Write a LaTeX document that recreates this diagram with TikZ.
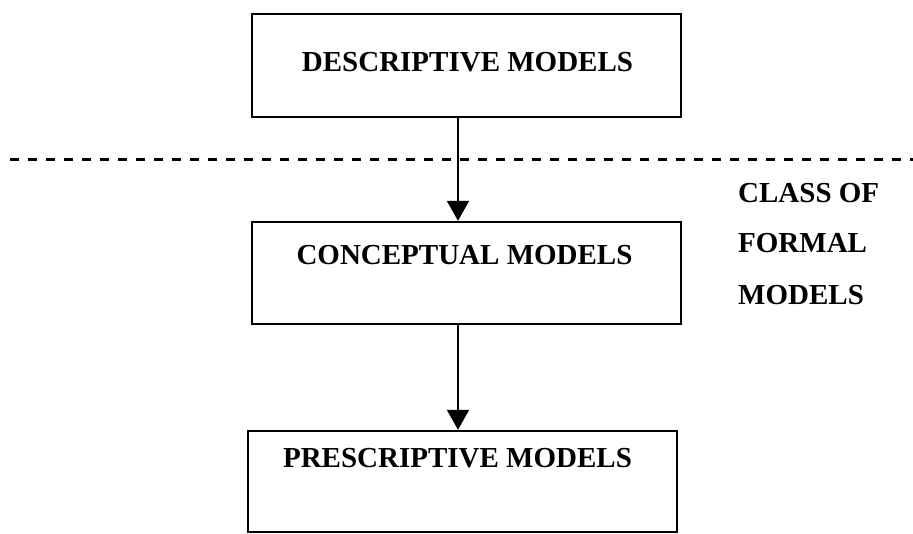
\documentclass[tikz,border=0pt]{standalone}
\usepackage{fontspec}
\setmainfont{Liberation Serif}
\usetikzlibrary{arrows.meta}
\begin{document}
\begin{tikzpicture}[x=1pt,y=1pt,
  modelbox/.style={draw=black, line width=2.4pt, rectangle, minimum width=429pt, inner sep=0pt},
  boxtext/.style={anchor=base, inner sep=0pt, font=\fontsize{29}{34}\selectfont\bfseries},
  sidetext/.style={anchor=base west, inner sep=0pt, font=\fontsize{29}{34}\selectfont\bfseries},
  flow/.style={line width=2pt, -{Triangle[width=22pt,length=20pt]}},
  divider/.style={line width=3pt, dash pattern=on 9pt off 9pt}]
  \useasboundingbox (0,0) rectangle (913,534);

  % the three model boxes
  \node[modelbox, minimum height=103pt] (desc) at (466.5,468.5) {};
  \node[modelbox, minimum height=102pt] (conc) at (466.5,261) {};
  \node[modelbox, minimum height=101pt] (presc) at (462.5,52.5) {};

  % box captions
  \node[boxtext] (descT) at (467.5,462) {DESCRIPTIVE MODELS};
  \node[boxtext] (concT) at (464.5,269) {CONCEPTUAL MODELS};
  \node[boxtext] (prescT) at (457.5,66) {PRESCRIPTIVE MODELS};

  % vertical axis of the flow arrows
  \coordinate (axis) at (458,0);
  \draw[flow] (desc.south -| axis) -- (conc.north -| axis);
  \draw[flow] (conc.south -| axis) -- (presc.north -| axis);

  % dashed separator
  \coordinate (sepL) at (10,374);
  \coordinate (sepR) at (913,374);
  \draw[divider] (sepL) -- (sepR);

  % class label
  \node[sidetext] (cls1) at (738,331) {CLASS OF};
  \node[sidetext] (cls2) at (738,281) {FORMAL};
  \node[sidetext] (cls3) at (738,229) {MODELS};
\end{tikzpicture}
\end{document}
